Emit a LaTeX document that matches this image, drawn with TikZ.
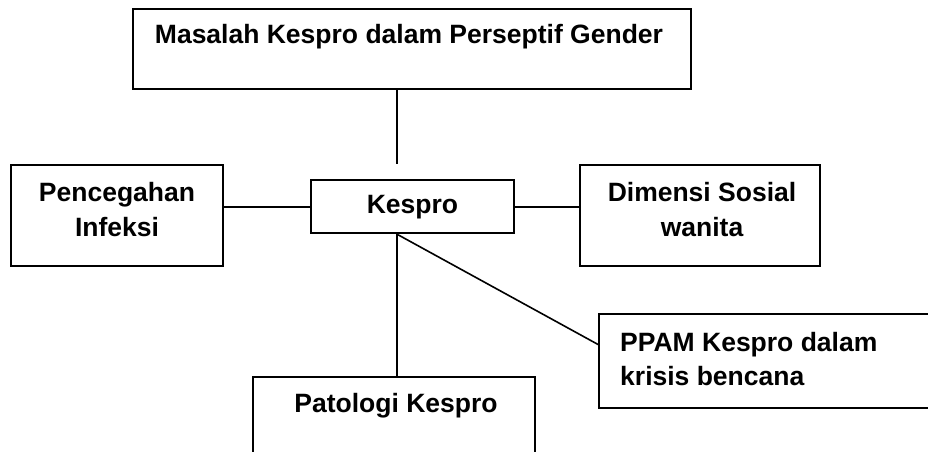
\documentclass[tikz,border=0pt]{standalone}
\usepackage{fontspec}
\setmainfont{Liberation Sans}
\begin{document}
\begin{tikzpicture}[x=1pt,y=-1pt,
  box/.style={draw, line width=2.4pt, inner sep=0pt, rectangle},
  lbl/.style={font=\fontsize{26.5}{34.3}\selectfont\bfseries, inner sep=0pt, align=center},
  link/.style={line width=2pt}]
\useasboundingbox (0,0) rectangle (928,451);
\clip (0,0) rectangle (928,451);

% boxes
\node[box, minimum width=558pt, minimum height=80pt] (gender) at (412,49) {};
\node[box, minimum width=212pt, minimum height=101pt] (infeksi) at (117,215.5) {};
\node[box, minimum width=203pt, minimum height=53pt] (kespro) at (412.5,206.5) {};
\node[box, minimum width=240pt, minimum height=101pt] (sosial) at (700,215.5) {};
\node[box, minimum width=362pt, minimum height=94pt] (ppam) at (780,361) {};
\node[box, minimum width=282pt, minimum height=150pt] (patologi) at (394,452) {};

% labels
\node[lbl, anchor=base] (gendertxt) at (409,43) {Masalah Kespro dalam Perseptif Gender};
\node[lbl, anchor=north] (infekstxt) at (117,182.5) {Pencegahan\\Infeksi};
\node[lbl, anchor=base] (kesprotxt) at (412.5,213) {Kespro};
\node[lbl, anchor=north] (sosialtxt) at (702,182.5) {Dimensi Sosial\\wanita};
\node[lbl, align=left, anchor=north west] (ppamtxt) at (620,332) {PPAM Kespro dalam\\krisis bencana};
\node[lbl, anchor=base] (patologitxt) at (396,412) {Patologi Kespro};

% connectors
\coordinate (stem) at (397,164);
\coordinate (ppamjoin) at (599,345);
\draw[link] (gender.south -| stem) -- (stem);
\draw[link] (infeksi.east |- kespro.west) -- (kespro.west);
\draw[link] (kespro.east) -- (sosial.west |- kespro.east);
\draw[link] (kespro.south -| stem) -- (patologi.north -| stem);
\draw[line width=1.6pt] (kespro.south -| stem) -- (ppamjoin);
\end{tikzpicture}
\end{document}
